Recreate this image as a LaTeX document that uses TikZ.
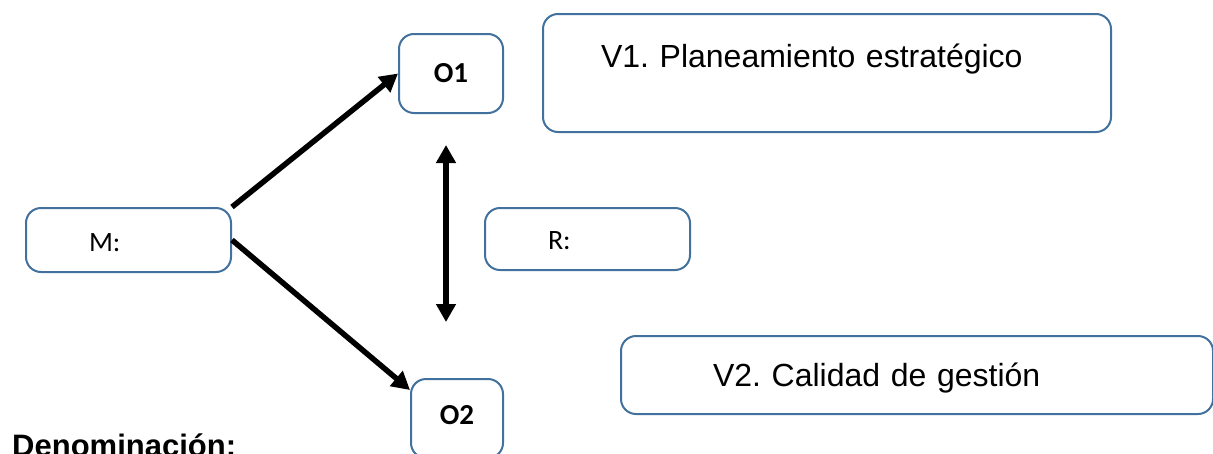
\documentclass[tikz,border=0pt]{standalone}
\usepackage{fontspec}
\setmainfont{Liberation Sans}
\newfontfamily\calibri{Carlito}
\usetikzlibrary{arrows.meta,positioning}
\frenchspacing

\definecolor{borde}{RGB}{65,113,156}

\tikzset{
  caja/.style={draw=borde, line width=2pt, rounded corners=15pt, inner ysep=0pt, anchor=north west, align=left},
  chico/.style={font=\calibri\fontsize{28}{34}\selectfont},
  negrita/.style={font=\calibri\bfseries\fontsize{29}{34}\selectfont, inner xsep=0pt, align=center},
  grande/.style={font=\fontsize{32}{38}\selectfont},
  flecha/.style={line width=5.5pt},
}

\begin{document}
\begin{tikzpicture}[x=1pt, y=-1pt, >={Triangle[length=18pt,width=19pt]}]
      \useasboundingbox (0,0) rectangle (1213,453);
      \clip (0,0) rectangle (1213,453);

      % cajas
      \node[caja,chico,inner xsep=63pt,text width=79pt,text height=43pt,text depth=21pt] (m) at (25,207) {M:};
      \node[caja,chico,inner xsep=63pt,text width=79pt,text height=41pt,text depth=21pt] (r) at (484,207) {R:};

      \node[caja,negrita,text width=104pt,text height=48pt,text depth=31pt] (o1) at (398,33) {O1};
      \node[caja,negrita,text width=92pt,text height=45pt,text depth=34pt] (o2) at (410,378) {O2};

      \node[caja,grande,inner xsep=58pt,text width=452pt,text height=53pt,text depth=65pt] (v1) at (542,13) {V1. Planeamiento estratégico};
      \node[caja,grande,inner xsep=92pt,text width=408pt,text height=50pt,text depth=28pt] (v2) at (620,335) {V2. Calidad de gestión};

      \node[anchor=base west, inner sep=0pt, font=\bfseries\fontsize{31}{37}\selectfont] (denom) at (12,456) {Denominación:};

      % flechas
      \draw[flecha,->] (m.north east) -- (o1.west);
      \draw[flecha,->] (m.east) -- ([yshift=-12pt]o2.north west);

      \coordinate (arriba) at (446,145);
      \coordinate (abajo) at (446,322);
      \draw[flecha,<->] (arriba) -- (abajo);
\end{tikzpicture}
\end{document}
